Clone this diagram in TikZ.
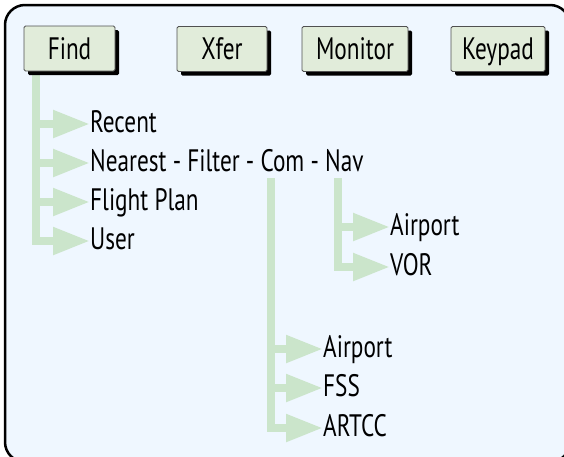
\documentclass[tikz,border=0pt]{standalone}
\usepackage{fontspec}
\setmainfont{PT Sans}[FakeStretch=0.75]
\usetikzlibrary{arrows.meta,shadows}
\definecolor{framebg}{HTML}{EFF7FF}
\definecolor{treegreen}{HTML}{CBE5CB}
\definecolor{btnfill}{HTML}{E1ECDA}
\definecolor{btnborder}{HTML}{505050}
\begin{document}
\begin{tikzpicture}[x=1pt,y=-1pt,
  btn/.style={draw=btnborder, line width=0.8pt, fill=btnfill, rounded corners=1.5pt,
    minimum height=45pt, inner sep=0pt, text height=21pt, text depth=0pt,
    general shadow={fill=black, shadow xshift=4pt, shadow yshift=-4pt}},
  lbl/.style={anchor=west, inner sep=0pt, text height=21pt, text depth=5pt},
  tree/.style={draw=treegreen, line width=8pt, line join=miter,
    -{Triangle[length=37pt,width=26pt]}}]
\useasboundingbox (0,0) rectangle (564,456);
\clip (0,0) rectangle (564,456);
\draw[line width=2.5pt, fill=framebg, rounded corners=20pt] (5,5) rectangle (570,462);
\fontsize{31}{34}\selectfont
% labels
\node[lbl] (recent)  at (90,124) {Recent};
\node[lbl] (nearest) at (90,163) {Nearest - Filter - Com - Nav};
\node[lbl] (flight)  at (90,202) {Flight Plan};
\node[lbl] (user)    at (90,241) {User};
\node[lbl] (navairport) at (390,227) {Airport};
\node[lbl] (vor)        at (390,267) {VOR};
\node[lbl] (comairport) at (323,349) {Airport};
\node[lbl] (fss)        at (323,388) {FSS};
\node[lbl] (artcc)      at (323,428) {ARTCC};
\coordinate (findtop) at (36,71);
\coordinate (comtop) at (271,178);
\coordinate (navtop) at (337.5,178);
% tree connectors
\draw[tree] (findtop) |- (recent.west);
\draw[tree] (findtop) |- (nearest.west);
\draw[tree] (findtop) |- (flight.west);
\draw[tree] (findtop) |- (user.west);
\draw[tree] (navtop) |- (navairport.west);
\draw[tree] (navtop) |- (vor.west);
\draw[tree] (comtop) |- (comairport.west);
\draw[tree] (comtop) |- (fss.west);
\draw[tree] (comtop) |- (artcc.west);
% buttons
\node[btn, minimum width=91pt]  (find)    at (69.5,48.5) {Find};
\node[btn, minimum width=90pt]  (xfer)    at (222,49) {Xfer};
\node[btn, minimum width=106pt] (monitor) at (355,49) {Monitor};
\node[btn, minimum width=94pt]  (keypad)  at (498,49) {Keypad};
\end{tikzpicture}
\end{document}
